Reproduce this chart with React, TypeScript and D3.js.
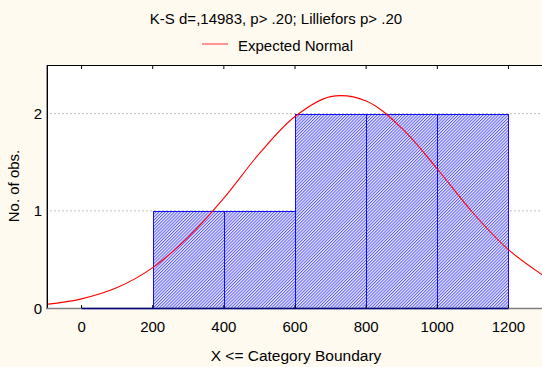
import React from "react";
import * as d3 from "d3";

const title = "K-S d=,14983, p> .20; Lilliefors p> .20";
const legendLabel = "Expected Normal";
const xTitle = "X <= Category Boundary";
const yTitle = "No. of obs.";

const binStarts = [0, 200, 400, 600, 800, 1000];
const binEnds = [200, 400, 600, 800, 1000, 1200];
const counts = [0, 1, 1, 2, 2, 2];

const xTicks = [0, 200, 400, 600, 800, 1000, 1200];
const yTicks = [0, 1, 2];

const curveX = [-100, 0, 100, 200, 300, 400, 500, 600, 700, 800, 900, 1000, 1100, 1200, 1300];
const curveY = [0.037, 0.094, 0.21, 0.415, 0.73, 1.13, 1.59, 1.97, 2.175, 2.13, 1.85, 1.43, 0.98, 0.6, 0.33];

const W = 542;
const H = 367;
const L = 46;
const R = 544;
const T = 65;
const B = 308;

export default function App() {
  const x = d3.scaleLinear().domain([-100, 1300]).range([L, R]);
  const y = d3.scaleLinear().domain([0, 2.5]).range([B, T]);
  const line = d3
    .line<number>()
    .x((_, i) => x(curveX[i]))
    .y((d) => y(d))
    .curve(d3.curveCatmullRom);
  const font = "'Liberation Sans', Arial, sans-serif";
  return (
    <svg width={W} height={H} style={{ position: "absolute", left: 0, top: 0 }} fontFamily={font}>
      <defs>
        <pattern id="hatch" width={2.2} height={2.2} patternUnits="userSpaceOnUse" patternTransform="rotate(45)">
          <rect width={2.2} height={2.2} fill="#ececff" />
          <line x1={0.5} y1={0} x2={0.5} y2={2.2} stroke="#5050ff" strokeWidth={0.9} />
        </pattern>
        <clipPath id="plotclip">
          <rect x={L} y={T} width={R - L} height={B - T} />
        </clipPath>
      </defs>
      <rect width={W} height={H} fill="#fffaf0" />
      <rect x={L} y={T} width={R - L} height={B - T} fill="#ffffff" />
      {yTicks
        .filter((t) => t > 0)
        .map((t) => (
          <line key={t} x1={L} x2={R} y1={y(t)} y2={y(t)} stroke="#c0c0c0" strokeDasharray="2,2" />
        ))}
      {counts.map((c, i) => (
        <rect
          key={i}
          x={Math.round(x(binStarts[i])) + 0.5}
          y={Math.round(y(c)) + 0.5}
          width={Math.round(x(binEnds[i])) - Math.round(x(binStarts[i]))}
          height={Math.round(y(0)) - Math.round(y(c))}
          fill="url(#hatch)"
          stroke="#1010ff"
          strokeWidth={1}
        />
      ))}
      <path d={line(curveY) || ""} fill="none" stroke="#ff0000" strokeWidth={1.1} clipPath="url(#plotclip)" />
      {/* frame */}
      <line x1={L} x2={R} y1={T + 0.5} y2={T + 0.5} stroke="#000" />
      <line x1={L + 1.5} x2={L + 1.5} y1={T} y2={B} stroke="#000" />
      <line x1={L + 0.5} x2={L + 0.5} y1={T} y2={B + 1} stroke="#999" />
      <line x1={L} x2={R} y1={B + 0.5} y2={B + 0.5} stroke="#808080" strokeWidth={1.5} />
      <line x1={x(0)} x2={x(1200)} y1={B + 0.5} y2={B + 0.5} stroke="#000080" strokeWidth={1.5} />
      {xTicks.map((t) => (
        <g key={t}>
          <line x1={x(t)} x2={x(t)} y1={T} y2={T + 4} stroke="#000" />
          <line x1={x(t)} x2={x(t)} y1={B} y2={B - 3} stroke="#000" />
          <text x={x(t)} y={332} textAnchor="middle" fontSize={15} fill="#000">
            {t}
          </text>
        </g>
      ))}
      {yTicks.map((t) => (
        <text key={t} x={42} y={y(t) + 5.5} textAnchor="end" fontSize={15} fill="#000">
          {t}
        </text>
      ))}
      <text x={276} y={24} textAnchor="middle" fontSize={15} fill="#000">
        {title}
      </text>
      <line x1={202} x2={228} y1={44} y2={44} stroke="#ff6060" strokeWidth={1.3} />
      <text x={238} y={50.5} fontSize={15} fill="#000">
        {legendLabel}
      </text>
      <text x={296} y={361} textAnchor="middle" fontSize={15.5} fill="#000">
        {xTitle}
      </text>
      <text
        transform={`translate(19,${186}) rotate(-90)`}
        textAnchor="middle"
        fontSize={15}
        fill="#000"
      >
        {yTitle}
      </text>
    </svg>
  );
}
